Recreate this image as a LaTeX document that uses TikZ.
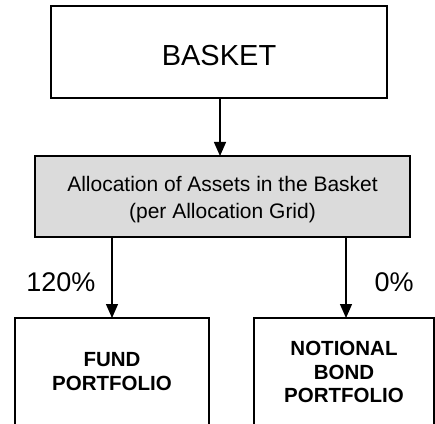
\documentclass[tikz,border=0pt]{standalone}
\usepackage{fontspec}
\setmainfont{Liberation Sans}
\usetikzlibrary{arrows.meta, positioning}
\tikzset{
  box/.style = {draw, rectangle, line width=1.3pt, align=center, inner sep=2pt, outer sep=0pt},
  greybox/.style = {box, fill=black!14},
  myarrow/.style = {line width=1.3pt, -{Triangle[length=14pt, width=12pt]}},
  pct/.style = {font=\fontsize{27}{30}\selectfont, inner sep=0pt},
}

\begin{document}
\begin{tikzpicture}[every node/.style={text=black}]
    \useasboundingbox (0,0) rectangle (435pt,423pt);
    \clip (0,0) rectangle (435pt,423pt);
    \node (basket) [box, minimum width=336pt, minimum height=92pt, font=\fontsize{29}{32}\selectfont] at (219pt,371pt) {\rule{0pt}{27pt}BASKET};
    \node (alloc) [greybox, minimum width=375pt, minimum height=81pt, font=\fontsize{21}{27}\selectfont, below=58pt of basket, xshift=3.5pt] {\rule{0pt}{22pt}Allocation of Assets in the Basket\\(per Allocation Grid)};
    \node (fund) [box, minimum width=194pt, minimum height=108pt, font=\fontsize{20.5}{24}\selectfont\bfseries, below=81pt of alloc, xshift=-110.5pt] {FUND\\PORTFOLIO};
    \node (bond) [box, minimum width=180pt, minimum height=108pt, font=\fontsize{20.5}{23.5}\selectfont\bfseries, below=81pt of alloc, xshift=121.5pt] {NOTIONAL\\BOND\\PORTFOLIO};

    \draw [myarrow] ([xshift=1pt]basket.south) -- ([xshift=1pt]basket.south |- alloc.north);
    \draw [myarrow] (fund.north |- alloc.south) -- node[pct, pos=0.56, left=16pt] {120\%} (fund.north);
    \draw [myarrow] ([xshift=2pt]bond.north |- alloc.south) -- node[pct, pos=0.56, right=28pt] {0\%} ([xshift=2pt]bond.north);
\end{tikzpicture}
\end{document}
